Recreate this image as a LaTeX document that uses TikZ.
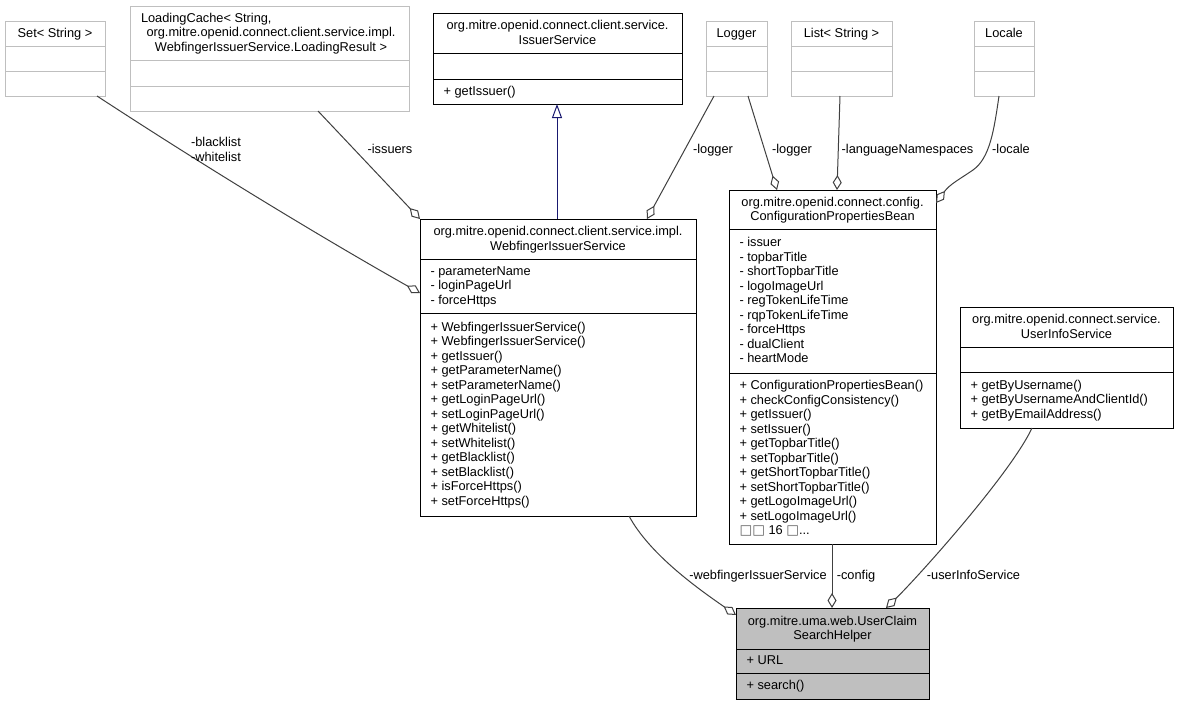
\documentclass[tikz,border=0pt]{standalone}
\usepackage{fontspec}
\setmainfont{Liberation Sans}
\newfontfamily\dvsans{DejaVu Sans}
\usetikzlibrary{arrows.meta}
\definecolor{extgray}{HTML}{BFBFBF}
\definecolor{edgegray}{HTML}{404040}
\definecolor{inhblue}{HTML}{191970}
\definecolor{hlgray}{HTML}{BFBFBF}
\definecolor{tofu}{HTML}{606060}
\newcommand\lnstrut{\rule[-3.5pt]{0pt}{14.5pt}}
\newcommand\umlline[1]{\lnstrut#1}
\newcommand\tofubox{{\dvsans\fontsize{13.5}{14.5}\selectfont\color{tofu}□}}
\newcommand\umlbox[6]{%
  \node[#2, anchor=north west, minimum width={(#5-#3)*1pt}, minimum height={(#6-#4)*1pt}] (#1) at (#3,#4) {};}
\begin{document}
\begin{tikzpicture}[
  x=1pt, y=-1pt,
  every node/.style={font=\fontsize{12.8}{14.5}\selectfont, inner sep=0pt, outer sep=0pt, text=black},
  classbox/.style={draw=black, line width=1pt, fill=white},
  extbox/.style={draw=extgray, line width=1pt, fill=white},
  focusbox/.style={draw=black, line width=1pt, fill=hlgray},
  extsep/.style={draw=extgray, line width=1pt},
  clsep/.style={draw=black, line width=1pt},
  hdr/.style={align=center},
  mem/.style={align=left, anchor=west},
  rel/.style={draw=edgegray, line width=1pt, -{Diamond[open, length=15pt, width=9pt]}},
  inh/.style={draw=inhblue, line width=1pt, -{Triangle[open, length=14pt, width=10pt]}},
  elabel/.style={align=center}
]
\useasboundingbox[fill=white] (0,0) rectangle (1179,705);

% ---------- external classes ----------
\umlbox{set}{extbox}{5}{21}{105}{96}
\draw[extsep] (5,46) -- (105,46) (5,71) -- (105,71);
\node[hdr] (set-h) at (55,33.5) {\umlline{Set< String >}};

\umlbox{lc}{extbox}{130}{6}{409}{111}
\draw[extsep] (130,60) -- (409,60) (130,86) -- (409,86);
\node[anchor=west] (lc-h1) at (141,18.5) {\umlline{LoadingCache< String,}};
\node[hdr] (lc-h2) at (271,40.25) {\umlline{org.mitre.openid.connect.client.service.impl.}\\\umlline{WebfingerIssuerService.LoadingResult >}};

\umlbox{logger}{extbox}{706}{21}{767}{96}
\draw[extsep] (706,46) -- (767,46) (706,71) -- (767,71);
\node[hdr] (logger-h) at (736.5,33.5) {\umlline{Logger}};

\umlbox{list}{extbox}{791}{21}{892}{96}
\draw[extsep] (791,46) -- (892,46) (791,71) -- (892,71);
\node[hdr] (list-h) at (841.5,33.5) {\umlline{List< String >}};

\umlbox{locale}{extbox}{974}{21}{1034}{96}
\draw[extsep] (974,46) -- (1034,46) (974,71) -- (1034,71);
\node[hdr] (locale-h) at (1004,33.5) {\umlline{Locale}};

% ---------- IssuerService ----------
\umlbox{iss}{classbox}{433}{13}{682}{104}
\draw[clsep] (433,53) -- (682,53) (433,79) -- (682,79);
\node[hdr] (iss-h) at (557.5,33) {\umlline{org.mitre.openid.connect.client.service.}\\\umlline{IssuerService}};
\node[mem] (iss-m) at (443.5,91.5) {\umlline{+ getIssuer()}};

% ---------- WebfingerIssuerService ----------
\umlbox{web}{classbox}{420}{219}{696}{516}
\draw[clsep] (420,259) -- (696,259) (420,313) -- (696,313);
\node[hdr] (web-h) at (558,239) {\umlline{org.mitre.openid.connect.client.service.impl.}\\\umlline{WebfingerIssuerService}};
\node[mem] (web-a) at (430.5,286) {\umlline{- parameterName}\\\umlline{- loginPageUrl}\\\umlline{- forceHttps}};
\node[mem] (web-m) at (430.5,414.5) {\umlline{+ WebfingerIssuerService()}\\\umlline{+ WebfingerIssuerService()}\\\umlline{+ getIssuer()}\\\umlline{+ getParameterName()}\\\umlline{+ setParameterName()}\\\umlline{+ getLoginPageUrl()}\\\umlline{+ setLoginPageUrl()}\\\umlline{+ getWhitelist()}\\\umlline{+ setWhitelist()}\\\umlline{+ getBlacklist()}\\\umlline{+ setBlacklist()}\\\umlline{+ isForceHttps()}\\\umlline{+ setForceHttps()}};

% ---------- ConfigurationPropertiesBean ----------
\umlbox{cfg}{classbox}{729}{190}{936}{544}
\draw[clsep] (729,229) -- (936,229) (729,373) -- (936,373);
\node[hdr] (cfg-h) at (832.5,209.5) {\umlline{org.mitre.openid.connect.config.}\\\umlline{ConfigurationPropertiesBean}};
\node[mem] (cfg-a) at (739.5,301) {\umlline{- issuer}\\\umlline{- topbarTitle}\\\umlline{- shortTopbarTitle}\\\umlline{- logoImageUrl}\\\umlline{- regTokenLifeTime}\\\umlline{- rqpTokenLifeTime}\\\umlline{- forceHttps}\\\umlline{- dualClient}\\\umlline{- heartMode}};
\node[mem] (cfg-m) at (739.5,458.5) {\umlline{+ ConfigurationPropertiesBean()}\\\umlline{+ checkConfigConsistency()}\\\umlline{+ getIssuer()}\\\umlline{+ setIssuer()}\\\umlline{+ getTopbarTitle()}\\\umlline{+ setTopbarTitle()}\\\umlline{+ getShortTopbarTitle()}\\\umlline{+ setShortTopbarTitle()}\\\umlline{+ getLogoImageUrl()}\\\umlline{+ setLogoImageUrl()}\\\umlline{\tofubox\tofubox\ 16 \tofubox...}};

% ---------- UserInfoService ----------
\umlbox{ui}{classbox}{960}{307}{1173}{428}
\draw[clsep] (960,347) -- (1173,347) (960,372) -- (1173,372);
\node[hdr] (ui-h) at (1066.5,327) {\umlline{org.mitre.openid.connect.service.}\\\umlline{UserInfoService}};
\node[mem] (ui-m) at (970.5,400) {\umlline{+ getByUsername()}\\\umlline{+ getByUsernameAndClientId()}\\\umlline{+ getByEmailAddress()}};

% ---------- UserClaimSearchHelper ----------
\umlbox{uc}{focusbox}{736}{608}{929}{699}
\draw[clsep] (736,649) -- (929,649) (736,673) -- (929,673);
\node[hdr] (uc-h) at (832.5,628.5) {\umlline{org.mitre.uma.web.UserClaim}\\\umlline{SearchHelper}};
\node[mem] (uc-a) at (746.5,661) {\umlline{+ URL}};
\node[mem] (uc-m) at (746.5,686) {\umlline{+ search()}};

% ---------- connectors ----------
\draw[rel] ([xshift=92pt]set.south west) .. controls (250,196) and (372,266) .. ([yshift=-74pt]web.north west);
\draw[rel] ([xshift=188pt]lc.south west) -- (web.north west);
\coordinate (inhS) at ([xshift=137pt]web.north west);
\draw[inh] (inhS) -- (inhS |- iss.south);
\draw[rel] ([xshift=8pt]logger.south west) -- ([xshift=227pt]web.north west);
\draw[rel] ([xshift=42pt]logger.south west) -- ([xshift=48pt]cfg.north west);
\draw[rel] ([xshift=49pt]list.south west) -- ([xshift=108pt]cfg.north west);
\draw[rel] ([xshift=25pt]locale.south west) .. controls (994,130) and (990,158) .. (973,170) .. controls (960,179) and (950,184) .. ([yshift=-13pt]cfg.north east);
\draw[rel] ([xshift=209pt]web.south west) .. controls (650,555) and (700,590) .. ([yshift=-7pt]uc.north west);
\draw[rel] ([xshift=103pt]cfg.south west) -- ([xshift=96pt]uc.north west);
\draw[rel] ([xshift=72pt]ui.south west) .. controls (1010,475) and (915,580) .. ([xshift=150pt]uc.north west);

% ---------- connector labels ----------
\node[elabel] (l-bw) at (216,150) {\umlline{-blacklist}\\\umlline{-whitelist}};
\node[elabel] (l-iss) at (390,150) {\umlline{-issuers}};
\node[elabel] (l-log1) at (713,150) {\umlline{-logger}};
\node[elabel] (l-log2) at (792,150) {\umlline{-logger}};
\node[elabel] (l-lang) at (907.5,150) {\umlline{-languageNamespaces}};
\node[elabel] (l-loc) at (1011,150) {\umlline{-locale}};
\node[elabel] (l-web) at (758,576) {\umlline{-webfingerIssuerService}};
\node[elabel] (l-cfg) at (856,576) {\umlline{-config}};
\node[elabel] (l-ui) at (973.5,576) {\umlline{-userInfoService}};
\end{tikzpicture}
\end{document}
